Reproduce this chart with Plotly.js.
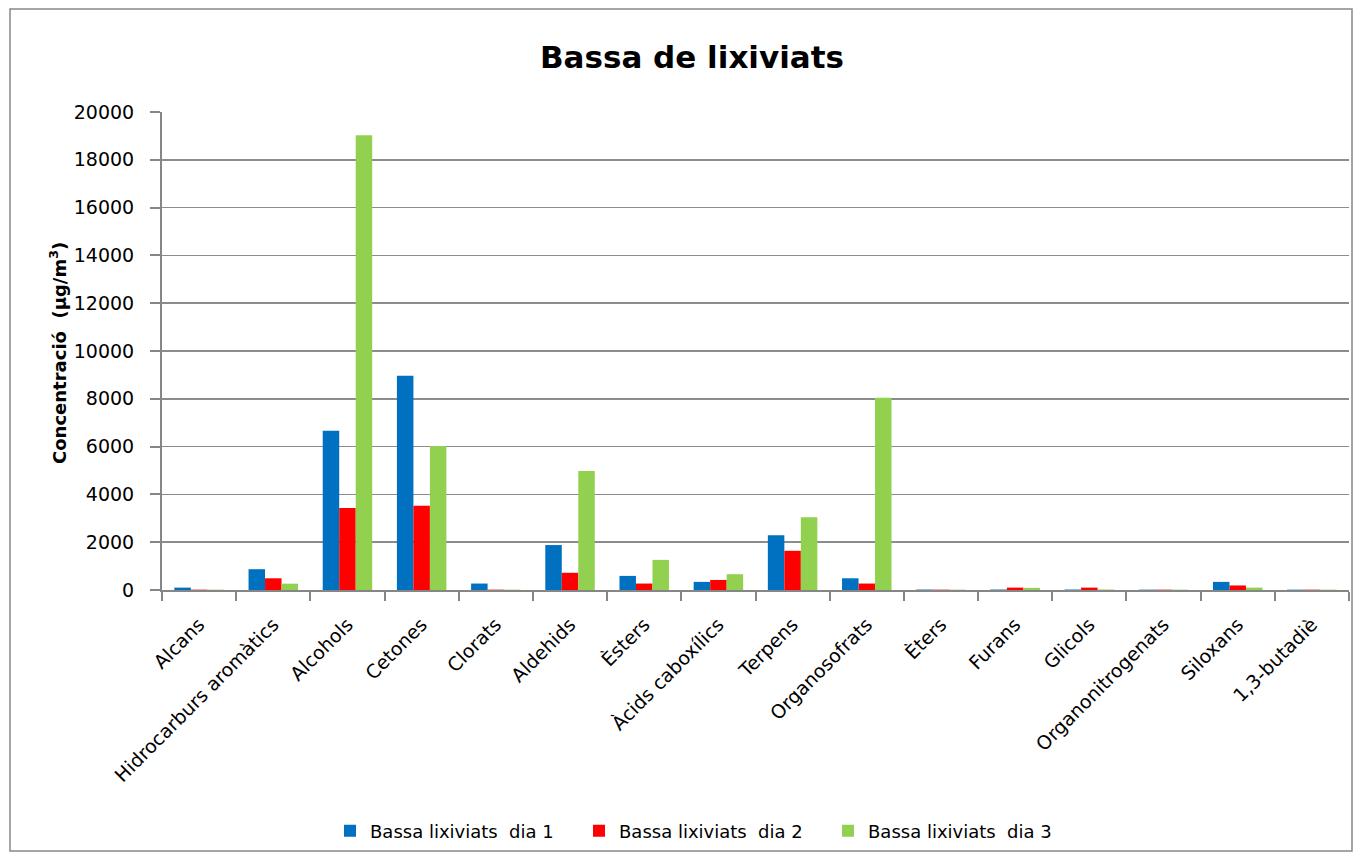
<!DOCTYPE html>
<html>
<head>
<meta charset="utf-8">
<script src="https://cdn.plot.ly/plotly-3.0.1.min.js"></script>
<style>html,body{margin:0;padding:0;background:#fff;}#chart{width:1361px;height:861px;}</style>
</head>
<body>
<div id="chart"></div>
<script>
const categories = ["Alcans","Hidrocarburs aromàtics","Alcohols","Cetones","Clorats","Aldehids","Èsters","Àcids caboxílics","Terpens","Organosofrats","Èters","Furans","Glicols","Organonitrogenats","Siloxans","1,3-butadiè"];
const dia1 = [100, 870, 6660, 8960, 270, 1880, 590, 340, 2290, 490, 20, 20, 20, 15, 340, 15];
const dia2 = [15, 490, 3430, 3520, 15, 720, 270, 420, 1640, 270, 15, 100, 100, 15, 190, 15];
const dia3 = [15, 265, 19030, 6030, 15, 4980, 1260, 660, 3045, 8040, 15, 90, 20, 15, 100, 15];
const seriesNames = ["Bassa lixiviats  dia 1","Bassa lixiviats  dia 2","Bassa lixiviats  dia 3"];
const colors = ["#0070C0","#FF0000","#92D050"];

const FONT = "'DejaVu Sans', Verdana, sans-serif";
const traces = [dia1, dia2, dia3].map((v,i)=>({
  type:'bar', x:categories, y:v, name:seriesNames[i],
  marker:{color:colors[i], line:{width:0}}
}));

const L=162, R=12, T=112, B=271, W=1361, H=861;
const pw = W-L-R, ph = H-T-B;
const px = x => (x-L)/pw;
const py = y => (H-B-y)/ph;

const layout = {
  width:W, height:H,
  margin:{l:L, r:R, t:T, b:B, pad:0},
  paper_bgcolor:'#fff', plot_bgcolor:'#fff',
  font:{family:FONT, size:19, color:'#000'},
  title:{text:'<b>Bassa de lixiviats</b>', font:{family:FONT, size:31, color:'#000'},
         x:692/W, xref:'container', xanchor:'center', y:1-57/H, yref:'container', yanchor:'middle'},
  barmode:'group', bargap:0.333, bargroupgap:0,
  showlegend:true,
  legend:{orientation:'h', x:px(330), xanchor:'left', y:py(831), yanchor:'middle',
          bgcolor:'rgba(0,0,0,0)', entrywidth:204, entrywidthmode:'pixels',
          font:{family:FONT, size:18, color:'#000'}, traceorder:'normal', itemwidth:30},
  xaxis:{type:'category', showgrid:false, showline:true, linecolor:'#868686', linewidth:2,
         ticks:'outside', tickson:'boundaries', ticklen:9, tickcolor:'#868686', tickwidth:2,
         ticklabelstandoff:14,
         tickangle:-45, tickfont:{family:FONT, size:19, color:'#000'}, automargin:false},
  yaxis:{range:[0,20000], dtick:2000, showgrid:true, gridcolor:'#8c8c8c', gridwidth:1.5,
         zeroline:false, showline:true, linecolor:'#868686', linewidth:2,
         ticks:'outside', ticklen:10, tickcolor:'#868686', tickwidth:2, ticklabelstandoff:12,
         tickfont:{family:FONT, size:19, color:'#000'}, automargin:false, tickformat:'d'},
  annotations:[{text:'<b>Concentració  (µg/m<sup>3</sup>)</b>', textangle:-90, showarrow:false,
    xref:'paper', yref:'paper', x:px(58), y:py(353), xanchor:'center', yanchor:'middle',
    font:{family:FONT, size:18, color:'#000'}}],
  shapes:[{type:'rect', xref:'paper', yref:'paper', x0:px(10), x1:px(1352), y0:py(851), y1:py(9),
    line:{color:'#888888', width:1.5}, fillcolor:'rgba(0,0,0,0)', layer:'below'}]
};
Plotly.newPlot('chart', traces, layout, {displayModeBar:false, staticPlot:true});
</script>
</body>
</html>
